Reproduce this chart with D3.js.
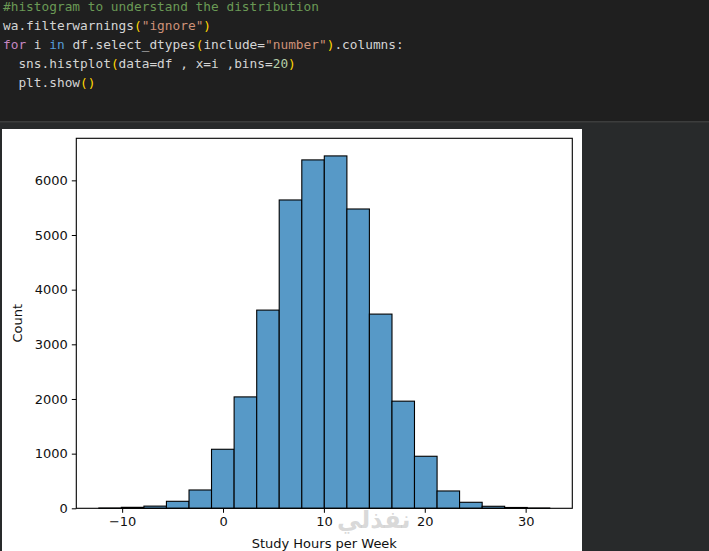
<!DOCTYPE html>
<html>
<head>
<meta charset="utf-8">
<script src="https://cdn.jsdelivr.net/npm/d3@7"></script>
<style>
  html, body { margin: 0; padding: 0; background: #282a2b; overflow: hidden; }
  .code { font-family: "DejaVu Sans Mono", "Liberation Mono", monospace; font-size: 12.8px; }
  .tick text { font-family: "DejaVu Sans", sans-serif; font-size: 13px; fill: #111; }
  .axis-label { font-family: "DejaVu Sans", sans-serif; font-size: 13px; fill: #111; }
</style>
</head>
<body>
<div id="chart"></div>
<script>
// histogram bins
const binEdges = [-12.31, -10.08, -7.84, -5.61, -3.37, -1.14, 1.10, 3.34, 5.57, 7.81, 10.04,
  12.28, 14.51, 16.75, 18.98, 21.22, 23.45, 25.69, 27.92, 30.16, 32.39];
const binCounts = [5, 18, 40, 128, 335, 1080, 2038, 3626, 5641, 6374, 6447,
  5476, 3553, 1960, 952, 317, 110, 37, 15, 5];
const xTicks = [-10, 0, 10, 20, 30];
const yTicks = [0, 1000, 2000, 3000, 4000, 5000, 6000];
const xLabel = "Study Hours per Week";
const yLabel = "Count";

// notebook cell source, split into coloured pieces
const codeLines = [
  [["#histogram to understand the distribution", "#6a9955"]],
  [["wa.filterwarnings", "#d4d4d4"], ["(", "#ffd700"], ["\"ignore\"", "#ce9178"], [")", "#ffd700"]],
  [["for", "#c586c0"], [" i ", "#d4d4d4"], ["in", "#569cd6"], [" df.select_dtypes", "#d4d4d4"], ["(", "#ffd700"],
   ["include=", "#d4d4d4"], ["\"number\"", "#ce9178"], [")", "#ffd700"], [".columns:", "#d4d4d4"]],
  [["  sns.histplot", "#d4d4d4"], ["(", "#ffd700"], ["data=df , x=i ,bins=", "#d4d4d4"], ["20", "#b5cea8"], [")", "#ffd700"]],
  [["  plt.show", "#d4d4d4"], ["()", "#ffd700"]]
];

const width = 709;
const height = 551;

const svg = d3.select("#chart")
  .append("svg")
  .attr("width", width)
  .attr("height", height);

// code cell background + separator
svg.append("rect").attr("x", 0).attr("y", 0).attr("width", width).attr("height", 121).attr("fill", "#1f1f1f");
svg.append("rect").attr("x", 0).attr("y", 121).attr("width", width).attr("height", 1.5).attr("fill", "#3c3d3d");

const code = svg.append("text").attr("class", "code").attr("xml:space", "preserve");
codeLines.forEach((parts, i) => {
  const line = code.append("tspan").attr("x", 3).attr("y", 10.5 + i * 19);
  parts.forEach((p) => {
    line.append("tspan").attr("fill", p[1]).style("white-space", "pre").text(p[0]);
  });
});

// output image (white figure)
svg.append("rect").attr("x", 2).attr("y", 129).attr("width", 580).attr("height", height - 129).attr("fill", "#ffffff");

const plotLeft = 76.3, plotRight = 572.3, plotTop = 138.3, plotBottom = 508.3;

const x = d3.scaleLinear()
  .domain([-14.545, 34.625])
  .range([plotLeft, plotRight]);

const y = d3.scaleLinear()
  .domain([0, d3.max(binCounts) * 1.05])
  .range([plotBottom, plotTop]);

svg.selectAll("rect.bar")
  .data(binCounts)
  .enter()
  .append("rect")
  .attr("class", "bar")
  .attr("x", (d, i) => x(binEdges[i]))
  .attr("width", (d, i) => x(binEdges[i + 1]) - x(binEdges[i]))
  .attr("y", (d) => y(d))
  .attr("height", (d) => plotBottom - y(d))
  .attr("fill", "#5799c7")
  .attr("stroke", "#000")
  .attr("stroke-width", 1.1);

const fmt = (v) => (v < 0 ? "\u2212" + Math.abs(v) : String(v));

const xAxis = svg.append("g")
  .attr("transform", `translate(0,${plotBottom})`)
  .call(d3.axisBottom(x).tickValues(xTicks).tickFormat(fmt).tickSizeOuter(0).tickSize(4.5).tickPadding(4));
xAxis.select(".domain").remove();

const yAxis = svg.append("g")
  .attr("transform", `translate(${plotLeft},0)`)
  .call(d3.axisLeft(y).tickValues(yTicks).tickFormat(fmt).tickSizeOuter(0).tickSize(4.5).tickPadding(4));
yAxis.select(".domain").remove();

svg.selectAll(".tick line").attr("stroke", "#000").attr("stroke-width", 1);

// frame
svg.append("rect")
  .attr("x", plotLeft)
  .attr("y", plotTop)
  .attr("width", plotRight - plotLeft)
  .attr("height", plotBottom - plotTop)
  .attr("fill", "none")
  .attr("stroke", "#000")
  .attr("stroke-width", 1.1);

// watermark (kept just right of the "10" tick label)
svg.append("text")
  .attr("x", 337)
  .attr("y", 528)
  .attr("text-anchor", "start")
  .attr("font-family", "DejaVu Sans, sans-serif")
  .attr("font-size", 24)
  .attr("font-weight", "bold")
  .attr("fill", "#b8b8b8")
  .attr("fill-opacity", 0.55)
  .text("نفذلي");

svg.append("text")
  .attr("class", "axis-label")
  .attr("x", (plotLeft + plotRight) / 2)
  .attr("y", 548)
  .attr("text-anchor", "middle")
  .text(xLabel);

svg.append("text")
  .attr("class", "axis-label")
  .attr("transform", `translate(22,${(plotTop + plotBottom) / 2}) rotate(-90)`)
  .attr("text-anchor", "middle")
  .text(yLabel);
</script>
</body>
</html>
